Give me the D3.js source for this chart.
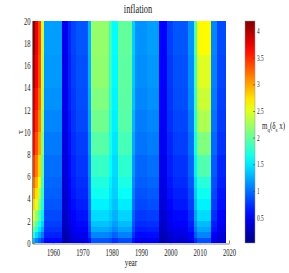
<!DOCTYPE html>
<html><head><meta charset="utf-8">
<script src="https://cdn.jsdelivr.net/npm/d3@7"></script>
<style>
body{margin:0;background:#fff}
svg{display:block}
text{font-family:"Liberation Serif","Times New Roman",serif;fill:#222}
</style>
</head><body><svg id="c" width="289" height="273"></svg>
<script>
// ---- data ----
const title = "inflation";
const xLabel = "year";
const yLabel = "τ";
const xTicks = [1960, 1970, 1980, 1990, 2000, 2010, 2020];
const yTicks = [0, 2, 4, 6, 8, 10, 12, 14, 16, 18, 20];
const cTicks = [0.5, 1, 1.5, 2, 2.5, 3, 3.5, 4];
const cTickLabels = ["0.5", "1", "1.5", "2", "2.5", "3", "3.5", "4"];
const cDomain = [0.03, 4.2];
// year bands (start year of each band); last band ends at bandEnd
const bandStart = [1953,1954,1955,1956,1957,1963,1965,1966,1968,1972,1973,1979,1980,1982,1987,1988,1992,1996,1999,2001,2006,2008,2009,2014,2016];
const bandEnd = 2019;
// tau edges of the rows
const tauEdges = [0, 0.5, 1, 1.5, 2, 3, 4, 5, 6, 8, 10, 12, 14, 17, 20];
// values m_q(δ_s x) per row (bottom to top), one per band
const r00 = [1.3,1.1,0.95,0.8,0.58,0.2,0.28,0.38,0.42,0.6,0.9,0.85,0.75,0.85,0.62,0.48,0.5,0.22,0.32,0.36,0.45,0.72,0.88,0.45,0.36];
const r01 = [1.7,1.45,1.25,1.05,0.68,0.24,0.34,0.44,0.49,0.75,1.1,1.05,0.95,1.08,0.75,0.58,0.6,0.26,0.38,0.43,0.55,0.9,1.1,0.55,0.41];
const r02 = [2.0,1.75,1.5,1.25,0.75,0.27,0.38,0.48,0.54,0.85,1.25,1.2,1.1,1.22,0.84,0.66,0.68,0.3,0.43,0.49,0.62,1.02,1.22,0.62,0.46];
const r03 = [2.25,1.95,1.7,1.4,0.8,0.3,0.41,0.52,0.58,0.9,1.35,1.3,1.2,1.32,0.9,0.72,0.74,0.33,0.47,0.54,0.68,1.12,1.32,0.68,0.5];
const r04 = [2.5,2.2,1.95,1.55,0.85,0.32,0.44,0.56,0.62,0.95,1.45,1.38,1.28,1.42,0.95,0.78,0.8,0.36,0.51,0.58,0.74,1.2,1.45,0.74,0.55];
const r05 = [2.8,2.5,2.2,1.7,0.9,0.35,0.48,0.6,0.67,1.0,1.55,1.45,1.35,1.52,1.02,0.84,0.87,0.4,0.56,0.64,0.8,1.3,1.55,0.8,0.6];
const r06 = [3.05,2.75,2.4,1.8,0.94,0.37,0.51,0.64,0.71,1.04,1.65,1.5,1.4,1.62,1.07,0.89,0.92,0.43,0.6,0.68,0.85,1.38,1.65,0.84,0.63];
const r07 = [3.25,2.95,2.6,1.9,0.97,0.39,0.54,0.67,0.74,1.08,1.72,1.55,1.42,1.7,1.12,0.93,0.96,0.45,0.63,0.72,0.9,1.45,1.75,0.88,0.67];
const r08 = [3.45,3.15,2.8,2.0,1.0,0.41,0.57,0.7,0.77,1.12,1.82,1.6,1.45,1.78,1.18,0.97,1.0,0.47,0.66,0.75,0.95,1.55,1.92,0.92,0.7];
const r09 = [3.65,3.35,3.0,2.15,1.05,0.43,0.6,0.73,0.8,1.18,1.95,1.68,1.5,1.88,1.25,1.02,1.06,0.5,0.7,0.8,1.0,1.65,2.12,0.98,0.75];
const r10 = [3.8,3.5,3.15,2.25,1.1,0.45,0.63,0.76,0.84,1.22,2.05,1.74,1.54,1.95,1.3,1.06,1.1,0.52,0.74,0.83,1.05,1.75,2.3,1.02,0.78];
const r11 = [3.9,3.6,3.25,2.35,1.15,0.46,0.66,0.78,0.86,1.25,2.12,1.78,1.56,1.97,1.35,1.1,1.14,0.53,0.76,0.86,1.1,1.8,2.42,1.05,0.8];
const r12 = [4.05,3.7,3.35,2.4,1.18,0.47,0.68,0.8,0.88,1.28,2.18,1.82,1.58,1.98,1.38,1.13,1.17,0.54,0.78,0.88,1.12,1.85,2.5,1.08,0.83];
const r13 = [4.15,3.75,3.4,2.45,1.2,0.48,0.7,0.82,0.9,1.3,2.2,1.85,1.6,2.0,1.4,1.15,1.2,0.55,0.8,0.9,1.15,1.9,2.65,1.1,0.85];
const rows = [r00,r01,r02,r03,r04,r05,r06,r07,r08,r09,r10,r11,r12,r13];

// ---- rendering ----
const svg = d3.select("#c");
const SX = 0.66; // horizontal text compression seen in the reference
const x = d3.scaleLinear().domain([1953, 2020]).range([32.5, 229]);
const y = d3.scaleLinear().domain([0, 20]).range([243, 21]);
const jet = t => {
  const c = v => Math.max(0, Math.min(1, v));
  const r = c(1.5 - Math.abs(4 * t - 3)), g = c(1.5 - Math.abs(4 * t - 2)), b = c(1.5 - Math.abs(4 * t - 1));
  return d3.rgb(r * 255, g * 255, b * 255).toString();
};
const color = d3.scaleSequential(jet).domain(cDomain);

// axes (drawn beneath the image, ticks inward)
const gx = svg.append("g").attr("transform", "translate(0,243.5)")
  .call(d3.axisBottom(x).tickValues(xTicks).tickFormat(d3.format("d")).tickSize(-3).tickSizeOuter(0).tickPadding(5));
const gy = svg.append("g").attr("transform", "translate(32,0)")
  .call(d3.axisLeft(y).tickValues(yTicks).tickSize(-3).tickSizeOuter(0).tickPadding(2));
[gx, gy].forEach(g => {
  g.select(".domain").attr("stroke", "#888");
  g.selectAll(".tick line").attr("stroke", "#888");
  g.selectAll(".tick text").attr("font-family", "Liberation Serif").attr("font-size", 10).attr("fill", "#333");
});
gx.selectAll(".tick text").attr("transform", `scale(${SX},1)`);
gy.selectAll(".tick text").attr("transform", `scale(${SX},1)`).attr("x", -2.2);

// heatmap cells
const bandEdges = bandStart.concat([bandEnd]);
const cells = [];
rows.forEach((row, ri) => row.forEach((v, bi) => cells.push({ri, bi, v})));
svg.append("g").attr("shape-rendering", "crispEdges").selectAll("rect").data(cells).join("rect")
  .attr("x", d => x(bandEdges[d.bi]))
  .attr("width", d => x(bandEdges[d.bi + 1]) - x(bandEdges[d.bi]) + 0.3)
  .attr("y", d => y(tauEdges[d.ri + 1]))
  .attr("height", d => y(tauEdges[d.ri]) - y(tauEdges[d.ri + 1]) + 0.3)
  .attr("fill", d => color(d.v));

// colorbar
const cy = d3.scaleLinear().domain(cDomain).range([243, 21]);
const defs = svg.append("defs");
const grad = defs.append("linearGradient").attr("id", "cb").attr("x1", 0).attr("y1", 1).attr("x2", 0).attr("y2", 0);
d3.range(0, 1.0001, 0.05).forEach(t => grad.append("stop").attr("offset", t).attr("stop-color", jet(t)));
svg.append("rect").attr("x", 245).attr("y", 21).attr("width", 10).attr("height", 222)
  .attr("fill", "url(#cb)").attr("stroke", "#999").attr("stroke-width", 0.5);
const cg = svg.append("g");
cg.selectAll("line").data(cTicks).join("line")
  .attr("x1", 253).attr("x2", 255).attr("y1", d => cy(d)).attr("y2", d => cy(d))
  .attr("stroke", "#444").attr("stroke-width", 0.6);
cg.selectAll("text").data(cTicks).join("text")
  .attr("transform", d => `translate(257,${cy(d)}) scale(${SX},1)`)
  .attr("dy", "0.32em").attr("font-size", 8).attr("fill", "#333")
  .text((d, i) => cTickLabels[i]);

// colorbar label m_q(δ_s x)
const cl = svg.append("text").attr("transform", `translate(262,129) scale(0.7,1)`).attr("font-size", 10).attr("fill", "#222");
cl.append("tspan").text("m");
cl.append("tspan").attr("dy", 3).attr("font-size", 7).text("q");
cl.append("tspan").attr("dy", -3).text("(δ");
cl.append("tspan").attr("dy", 3).attr("font-size", 7).text("s");
cl.append("tspan").attr("dy", -3).text(" x)");

// title and axis labels
svg.append("text").attr("transform", `translate(138,13) scale(0.7,1)`).attr("text-anchor", "middle")
  .attr("font-size", 12).text(title);
svg.append("text").attr("transform", `translate(131,266) scale(${SX},1)`).attr("text-anchor", "middle")
  .attr("font-size", 11).text(xLabel);
svg.append("text").attr("transform", `translate(23,132) scale(${SX},1) rotate(-90)`).attr("text-anchor", "middle")
  .attr("font-size", 11).text(yLabel);
</script>
</body></html>
